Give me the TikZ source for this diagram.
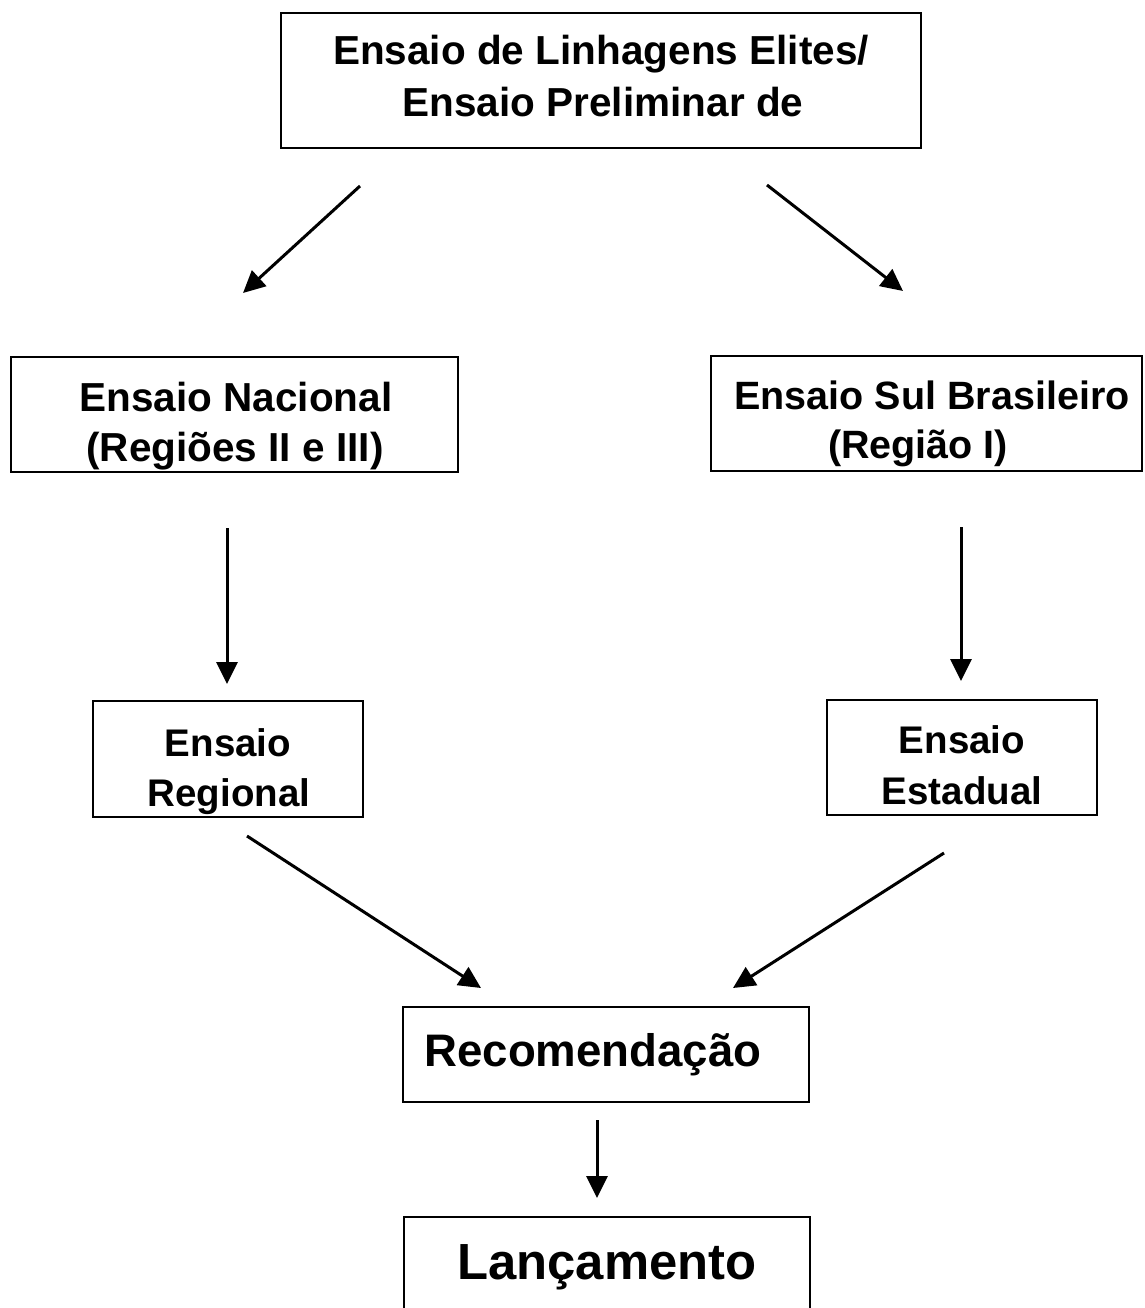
\documentclass[tikz,border=0pt]{standalone}
\usepackage{fontspec}
\setmainfont{Liberation Sans}
\usetikzlibrary{arrows.meta}
\begin{document}
\begin{tikzpicture}[x=1pt,y=-1pt,
  box/.style={draw, line width=2.4pt, inner sep=0pt},
  lbl/.style={anchor=base, inner sep=0pt, font=\bfseries\fontsize{40.5}{48}\selectfont},
  lblsm/.style={anchor=base, inner sep=0pt, font=\bfseries\fontsize{38.5}{46}\selectfont},
  arr/.style={line width=3pt, -{Triangle[length=22pt,width=21pt]}}]
\useasboundingbox (0,0) rectangle (1144,1308);
\fill[white] (0,0) rectangle (1144,1308);

% boxes
\node[box, minimum width=640pt, minimum height=135pt] (b1) at (601,80.5) {};
\node[box, minimum width=447pt, minimum height=115pt] (b2) at (234.5,414.5) {};
\node[box, minimum width=431pt, minimum height=115pt] (b3) at (926.5,413.5) {};
\node[box, minimum width=270pt, minimum height=116pt] (b4) at (228,759) {};
\node[box, minimum width=270pt, minimum height=115pt] (b5) at (962,757.5) {};
\node[box, minimum width=406pt, minimum height=95pt] (b6) at (606,1054.5) {};
\node[box, minimum width=406pt, minimum height=113pt] (b7) at (607,1273.5) {};

% texts
\node[lbl] (t1a) at (601,65) {Ensaio de Linhagens Elites/};
\node[lbl] (t1b) at (603,117) {Ensaio Preliminar de};
\begin{scope}
\clip (b2.south west) rectangle (b2.north east);
\node[lbl] (t2a) at (236,411) {Ensaio Nacional};
\node[lbl] (t2b) at (235,461) {(Regiões II e III)};
\end{scope}
\begin{scope}
\clip (b3.south west) rectangle (b3.north east);
\node[lbl, font=\bfseries\fontsize{39.5}{46}\selectfont] (t3a) at (932,409) {Ensaio Sul Brasileiro};
\node[lbl, font=\bfseries\fontsize{39.5}{46}\selectfont] (t3b) at (918,458) {(Região I)};
\end{scope}
\begin{scope}
\clip (b4.south west) rectangle (b4.north east);
\node[lblsm] (t4a) at (228,756) {Ensaio};
\node[lblsm] (t4b) at (229,806) {Regional};
\end{scope}
\node[lblsm] (t5a) at (962,753) {Ensaio};
\node[lblsm] (t5b) at (962,804) {Estadual};
\node[lbl, font=\bfseries\fontsize{45.6}{52}\selectfont] (t6) at (593,1066) {Recomendação};
\node[lbl, font=\bfseries\fontsize{50.8}{58}\selectfont] (t7) at (607,1279) {Lançamento};

% arrow end points
\coordinate (a1s) at (360,186);  \coordinate (a1e) at (243,293);
\coordinate (a2s) at (767,185);  \coordinate (a2e) at (903,291);
\coordinate (a3s) at (227,528);  \coordinate (a3e) at (227,684);
\coordinate (a4s) at (961,527);  \coordinate (a4e) at (961,681);
\coordinate (a5s) at (247,836);  \coordinate (a5e) at (481,988);
\coordinate (a6s) at (944,853);  \coordinate (a6e) at (733,988);
\coordinate (a7s) at (597,1120); \coordinate (a7e) at (597,1198);

\draw[arr] (a1s) -- (a1e);
\draw[arr] (a2s) -- (a2e);
\draw[arr] (a3s) -- (a3e);
\draw[arr] (a4s) -- (a4e);
\draw[arr] (a5s) -- (a5e);
\draw[arr] (a6s) -- (a6e);
\draw[arr] (a7s) -- (a7e);
\end{tikzpicture}
\end{document}
